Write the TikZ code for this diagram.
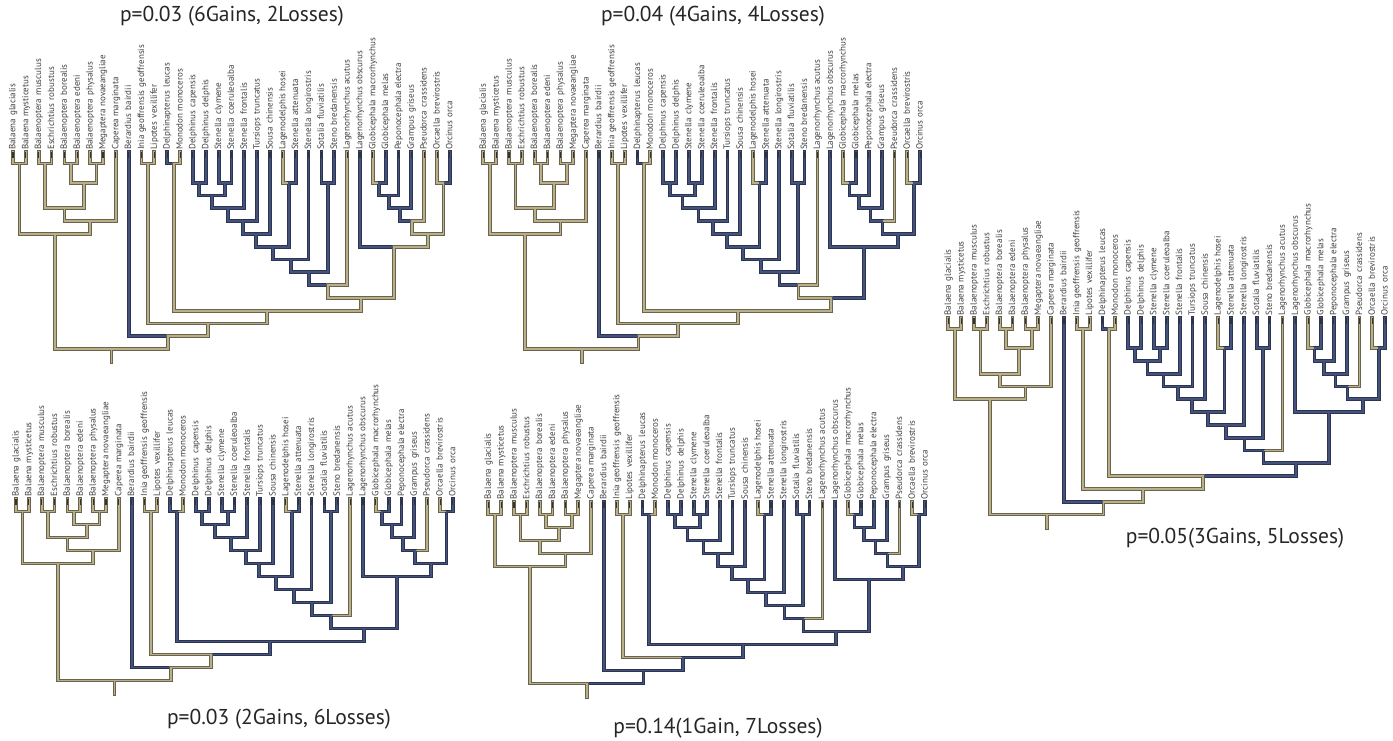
\documentclass[tikz,border=0pt]{standalone}
\usepackage{fontspec}
\setmainfont{PT Sans}
\usetikzlibrary{calc}

\definecolor{olvin}{HTML}{BAB087}
\definecolor{olvout}{HTML}{696350}
\definecolor{bluin}{HTML}{45537B}
\definecolor{bluout}{HTML}{2B3553}
\definecolor{tipc}{HTML}{333333}

\newcommand{\hs}{\hspace{3.5pt}}
% internal nodes: name/child/child/level (upper trees)/level (lower trees)
\newcommand{\nodelist}{A/L1/L2/0.5/1, B/L3/L4/0.5/1, C/L5/L6/0.5/1, D/L7/L8/0.5/1,
  CD/C/D/2/2, BCD/B/CD/4/3, E/BCD/L9/5/4, M/A/E/6/5, IL/L11/L12/0.5/1, DM/L13/L14/0.5/1,
  P1/L15/L16/2/1, P2/L17/L18/2/1, P12/P1/P2/3/2, Q1/P12/L19/4/3, Q2/Q1/L20/5/4,
  Q3/Q2/L21/6/5, R/L22/L23/2/1, Q4/Q3/R/7/6, Q5/Q4/L24/8/7, S/L25/L26/2/1,
  Q6/Q5/S/9/8, Q7/Q6/L27/10/9, G1/L29/L30/2/1, G2/G1/L31/3/2, G3/G2/L32/4/3,
  G4/G3/L33/5/4, O/L34/L35/2/1, G5/G4/O/6/5, T/L28/G5/7/6, U/Q7/T/11/10,
  V/DM/U/12/11, W/IL/V/13/12, X/L10/W/14/13, Root/M/X/15/14}
\newcommand{\brlist}{L1/A, L2/A, L3/B, L4/B, L5/C, L6/C, L7/D, L8/D, C/CD, D/CD,
  B/BCD, CD/BCD, BCD/E, L9/E, A/M, E/M, M/Root, L10/X, L11/IL, L12/IL, IL/W,
  L13/DM, L14/DM, DM/V, L15/P1, L16/P1, L17/P2, L18/P2, P1/P12, P2/P12, P12/Q1,
  L19/Q1, Q1/Q2, L20/Q2, Q2/Q3, L21/Q3, L22/R, L23/R, Q3/Q4, R/Q4, Q4/Q5, L24/Q5,
  L25/S, L26/S, Q5/Q6, S/Q6, Q6/Q7, L27/Q7, Q7/U, L29/G1, L30/G1, G1/G2, L31/G2,
  G2/G3, L32/G3, G3/G4, L33/G4, L34/O, L35/O, G4/G5, O/G5, L28/T, G5/T, T/U,
  U/V, V/W, W/X, X/Root, Root/base}
\newcommand{\labels}{1/Balaena\hs glacialis, 2/Balaena mysticetus,
  3/Balaenoptera\hs musculus, 4/Eschrichtius\hs robustus, 5/Balaenoptera\hs borealis,
  6/Balaenoptera edeni, 7/Balaenoptera\hs physalus, 8/Megaptera novaeangliae,
  9/Caperea marginata, 10/Berardius\hs bairdii, 11/Inia geoffrensis\hs geoffrensis,
  12/Lipotes\hs vexillifer, 13/Delphinapterus\hs leucas, 14/Monodon monoceros,
  15/Delphinus\hs capensis, 16/Delphinus\hs delphis, 17/Stenella\hs clymene,
  18/Stenella\hs coeruleoalba, 19/Stenella\hs frontalis, 20/Tursiops\hs truncatus,
  21/Sousa\hs chinensis, 22/Lagenodelphis hosei, 23/Stenella attenuata,
  24/Stenella\hs longirostris, 25/Sotalia\hs fluviatilis, 26/Steno bredanensis,
  27/Lagenorhynchus acutus, 28/Lagenorhynchus obscurus,
  29/Globicephala\hs macrorhynchus, 30/Globicephala\hs melas,
  31/Peponocephala electra, 32/Grampus\hs griseus, 33/Pseudorca\hs crassidens,
  34/Orcaella\hs brevirostris, 35/Orcinus\hs orca}

\newcommand{\setblue}[2]{\foreach \nd in {#2}{\expandafter\gdef\csname isblue#1\nd\endcsname{1}}}

% #1 tree name, #2 x offset, #3 y of the tips, #4 layout (0 upper, 1 lower)
\newcommand{\cetree}[4]{%
  \foreach \i in {1,...,35}
    \coordinate (#1L\i) at ({#2+13+(\i-1)*12.85}, #3);
  \foreach \nd/\ca/\cb/\lt/\lb in \nodelist {
    \pgfmathsetmacro\dep{#3 + (#4==0 ? 5+12.8*\lt : 13*\lb)}
    \path let \p1 = ($(#1\ca)!0.5!(#1\cb)$) in coordinate (#1\nd) at (\x1,-\dep pt);
  }
  \coordinate (#1base) at ([yshift=-13.4pt]#1Root);
  \foreach \pass in {out,in} {
    \foreach \ch/\pa in \brlist {
      \ifcsname isblue#1\ch\endcsname \def\bc{blu\pass}\else\def\bc{olv\pass}\fi
      \draw[br\pass, draw=\bc] (#1\ch) |- (#1\pa);
    }
  }
  \foreach \i in {1,...,35}
    \draw[tiptick] (#1L\i) -- ++(0,6);
  \foreach \i/\lbl in \labels
    \node[leaflbl] (#1N\i) at ([yshift=1.5pt]#1L\i) {\lbl};
}

\setblue{t1}{L10,L13,L15,L16,L17,L18,P1,P2,P12,L19,Q1,L20,Q2,L21,Q3,L23,R,Q4,L24,Q5,
  L25,L26,S,Q6,L28,L30,G1,L31,G2,L32,G3,L35}
\setblue{t2}{L10,L13,L15,L16,L17,L18,P1,P2,P12,L19,Q1,L20,Q2,L21,Q3,L23,R,Q4,L24,Q5,
  L25,L26,S,Q6,T,L28,G5,G4,G3,G2,G1,L30,L31,L32,O,L35}
\setblue{t3}{L10,L13,L15,L16,L17,L18,P1,P2,P12,L19,Q1,L20,Q2,L21,Q3,L23,R,Q4,L24,Q5,
  L25,L26,S,Q6,Q7,U,T,L28,G5,G4,G3,G2,G1,L30,L31,L32,O,L35}
\setblue{t4}{L10,V,DM,L13,L15,L16,L17,L18,P1,P2,P12,L19,Q1,L20,Q2,L21,Q3,L23,R,Q4,L24,
  Q5,L25,L26,S,Q6,Q7,U,T,L28,G5,G4,G3,G2,G1,L30,L31,L32,O,L35}
\setblue{t5}{X,L10,W,V,DM,L13,L15,L16,L17,L18,P1,P2,P12,L19,Q1,L20,Q2,L21,Q3,L23,R,Q4,
  L24,Q5,L25,L26,S,Q6,Q7,U,T,L28,G5,G4,G3,G2,G1,L30,L31,L32,O,L35}

\begin{document}
\begin{tikzpicture}[x=1pt, y=-1pt,
  brout/.style={line width=3.8pt, line cap=rect},
  brin/.style={line width=1.8pt, line cap=rect},
  tiptick/.style={draw=tipc, line width=1.1pt},
  leaflbl/.style={rotate=90, anchor=mid west, inner sep=0.5pt, text=black!75,
    font=\fontsize{9}{10}\selectfont},
  title/.style={font=\fontsize{21.5}{24}\selectfont, text=black!85}]
  \fill[white] (0,0) rectangle (1393,740);
  \useasboundingbox (0,0) rectangle (1393,740);

  \cetree{t1}{0}{152}{0}
  \cetree{t2}{470.3}{152}{0}
  \cetree{t3}{935.3}{317.5}{0}
  \cetree{t4}{3}{498.5}{1}
  \cetree{t5}{475.3}{501.5}{1}

  % titles
  \node[title] (ttl1) at (232,16) {p=0.03 (6Gains, 2Losses)};
  \node[title] (ttl2) at (713,16) {p=0.04 (4Gains, 4Losses)};
  \node[title] (ttl3) at (1235,538) {p=0.05(3Gains, 5Losses)};
  \node[title] (ttl4) at (279,719) {p=0.03 (2Gains, 6Losses)};
  \node[title] (ttl5) at (718,728) {p=0.14(1Gain, 7Losses)};
\end{tikzpicture}
\end{document}
